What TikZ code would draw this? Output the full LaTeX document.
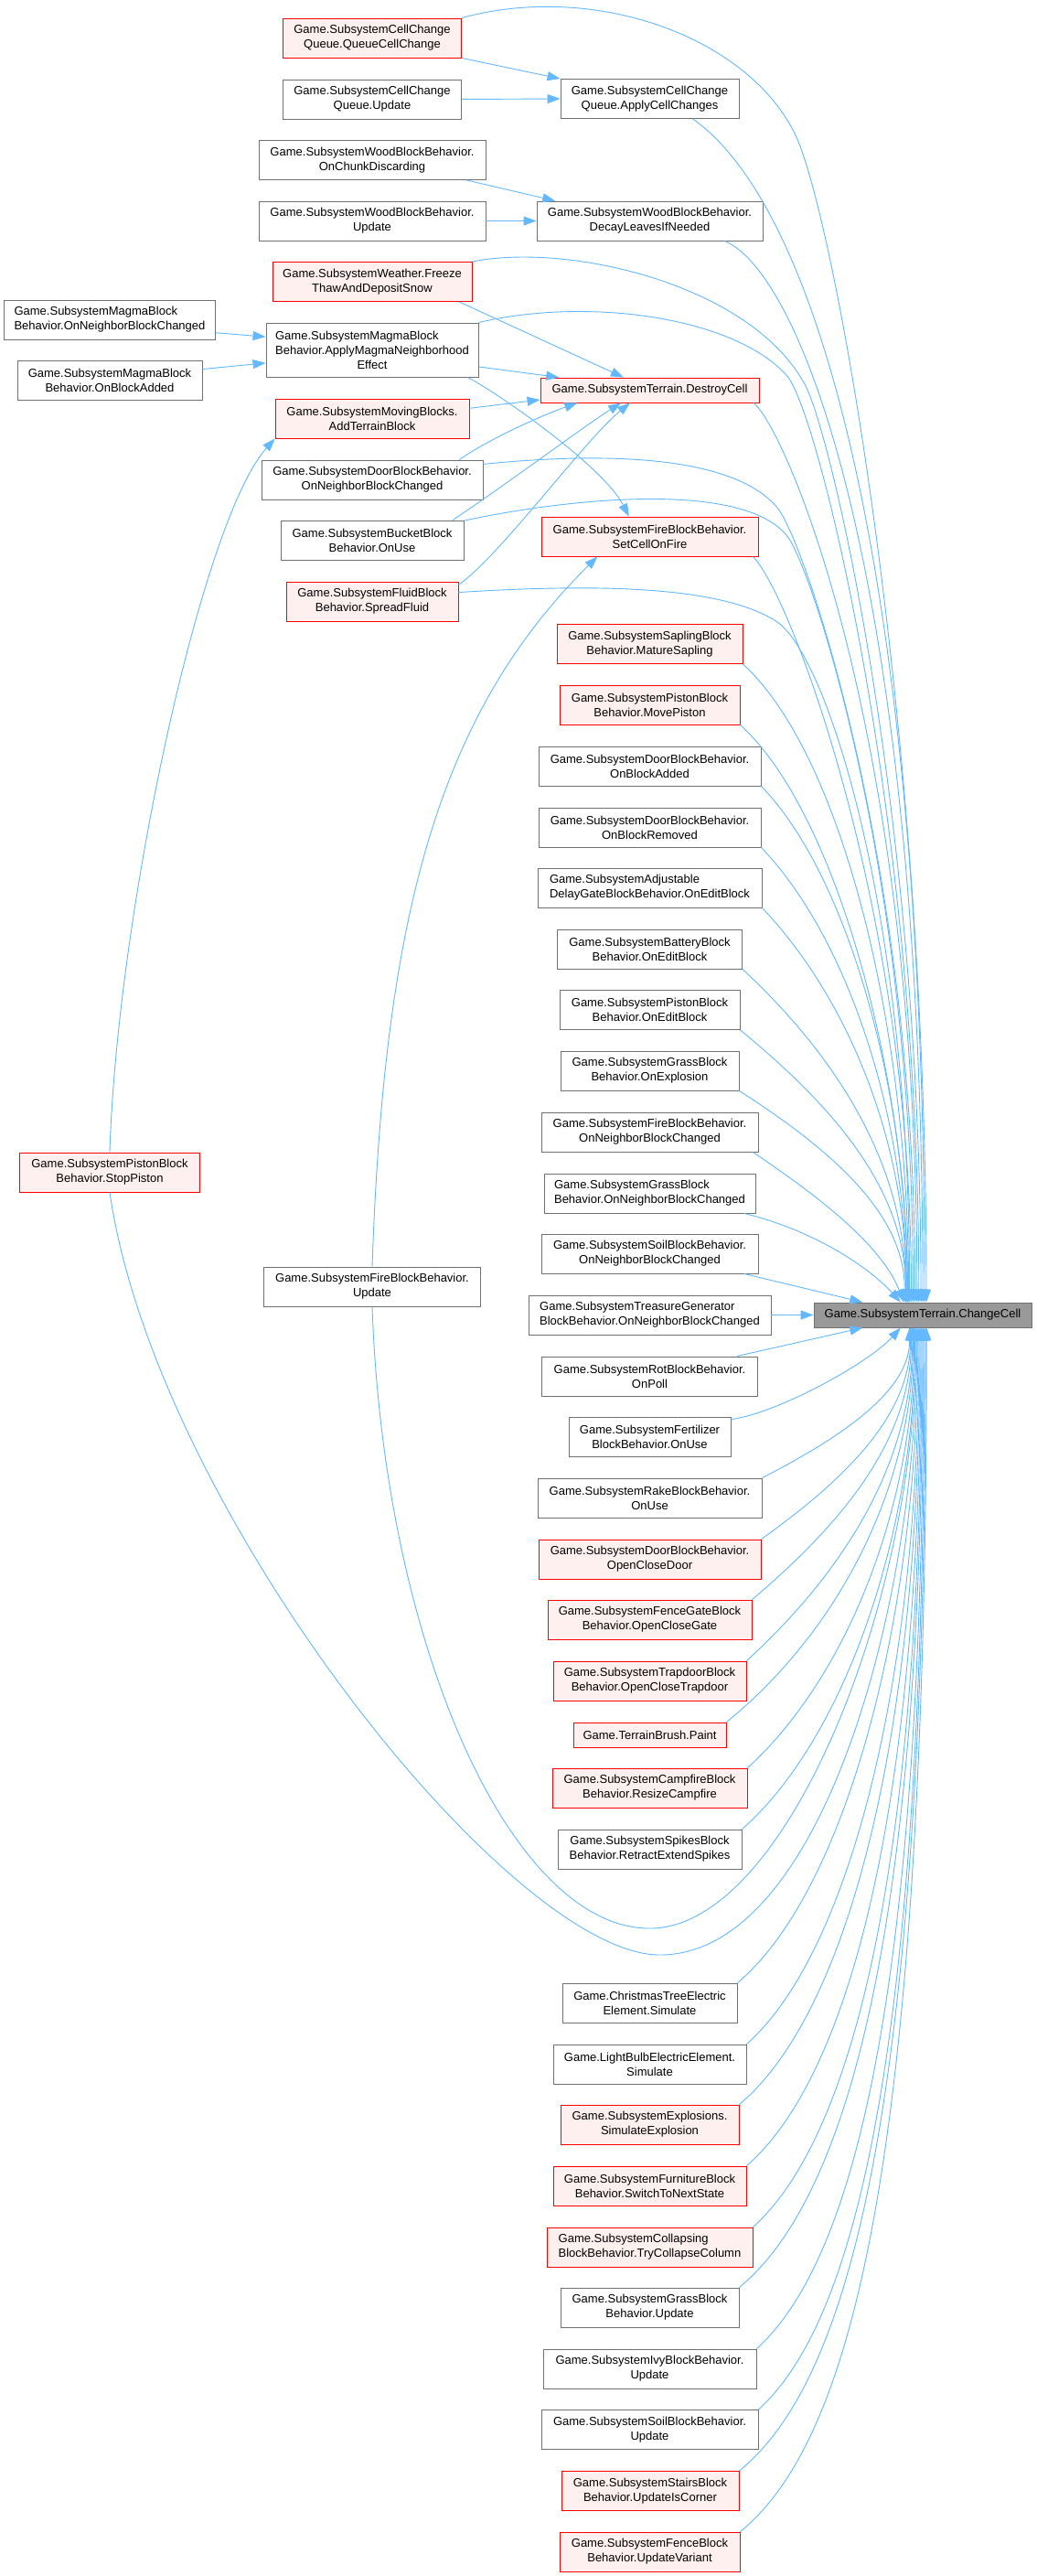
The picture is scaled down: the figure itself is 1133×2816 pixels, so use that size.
\documentclass[tikz,border=0pt]{standalone}
\usepackage{fontspec}
\setmainfont{Liberation Sans}
\usetikzlibrary{arrows.meta}
\definecolor{edgeblue}{HTML}{63B8FF}
\definecolor{boxgray}{HTML}{707070}
\definecolor{boxred}{HTML}{FF0000}
\definecolor{pinkfill}{HTML}{FFF0F0}
\definecolor{curfill}{HTML}{999999}

\begin{document}
\begin{tikzpicture}[x=1pt,y=-1pt,
  fn/.style={draw=boxgray, line width=0.9pt, fill=white, inner sep=0pt, minimum height=43pt, align=center, font=\fontsize{13}{16}\selectfont},
  fnred/.style={fn, draw=boxred, fill=pinkfill},
  fncur/.style={fn, fill=curfill, minimum height=27pt},
  call/.style={draw=edgeblue, line width=0.9pt, -{Triangle[length=14pt,width=10pt]}}]
\path[use as bounding box, fill=white] (0,0) rectangle (1133,2816);

\node[fn, minimum width=231pt, align=left] (magmanbc) at (120,349.5) {Game.SubsystemMagmaBlock\\Behavior.OnNeighborBlockChanged};
\node[fn, minimum width=202pt] (magmaadd) at (120,416) {Game.SubsystemMagmaBlock\\Behavior.OnBlockAdded};
\node[fnred, minimum width=197pt] (stoppis) at (120,1281.5) {Game.SubsystemPistonBlock\\Behavior.StopPiston};

\node[fnred, minimum width=195pt] (queuecc) at (407,41.5) {Game.SubsystemCellChange\\Queue.QueueCellChange};
\node[fn, minimum width=195pt] (queueupd) at (407,108.5) {Game.SubsystemCellChange\\Queue.Update};
\node[fn, minimum width=248pt] (woodchunk) at (407,175) {Game.SubsystemWoodBlockBehavior.\\OnChunkDiscarding};
\node[fn, minimum width=248pt] (woodupd) at (407,241.5) {Game.SubsystemWoodBlockBehavior.\\Update};
\node[fnred, minimum width=218pt] (freeze) at (407,308) {Game.SubsystemWeather.Freeze\\ThawAndDepositSnow};
\node[fn, minimum width=232pt, minimum height=59pt] (magma) at (407,382.5) {\makebox[0pt][l]{Game.SubsystemMagmaBlock}\phantom{Behavior.ApplyMagmaNeighborhood}\\Behavior.ApplyMagmaNeighborhood\\Effect};
\node[fnred, minimum width=212pt] (addtb) at (407,457.5) {Game.SubsystemMovingBlocks.\\AddTerrainBlock};
\node[fn, minimum width=242pt] (doornbc) at (407,524.5) {Game.SubsystemDoorBlockBehavior.\\OnNeighborBlockChanged};
\node[fn, minimum width=200pt] (bucket) at (407,590.5) {Game.SubsystemBucketBlock\\Behavior.OnUse};
\node[fnred, minimum width=188pt] (fluid) at (407,657.5) {Game.SubsystemFluidBlock\\Behavior.SpreadFluid};
\node[fn, minimum width=237pt] (fireupd) at (407,1406.5) {Game.SubsystemFireBlockBehavior.\\Update};

\node[fn, minimum width=195pt] (applycc) at (710.5,108) {Game.SubsystemCellChange\\Queue.ApplyCellChanges};
\node[fn, minimum width=247pt] (decay) at (710.5,241.5) {Game.SubsystemWoodBlockBehavior.\\DecayLeavesIfNeeded};
\node[fnred, minimum width=239pt, minimum height=27pt] (destroy) at (710.5,426.5) {Game.SubsystemTerrain.DestroyCell};
\node[fnred, minimum width=237pt] (setfire) at (710.5,586.5) {Game.SubsystemFireBlockBehavior.\\SetCellOnFire};
\node[fnred, minimum width=203pt] (sapling) at (710.5,704) {Game.SubsystemSaplingBlock\\Behavior.MatureSapling};
\node[fnred, minimum width=197pt] (movepis) at (710.5,770.5) {Game.SubsystemPistonBlock\\Behavior.MovePiston};
\node[fn, minimum width=243pt] (dooradd) at (710.5,837.5) {Game.SubsystemDoorBlockBehavior.\\OnBlockAdded};
\node[fn, minimum width=243pt] (doorrem) at (710.5,904.5) {Game.SubsystemDoorBlockBehavior.\\OnBlockRemoved};
\node[fn, minimum width=245pt, align=left] (delaygate) at (710.5,970.5) {Game.SubsystemAdjustable\\DelayGateBlockBehavior.OnEditBlock};
\node[fn, minimum width=202pt] (battery) at (710.5,1037.5) {Game.SubsystemBatteryBlock\\Behavior.OnEditBlock};
\node[fn, minimum width=197pt] (pisedit) at (710.5,1104) {Game.SubsystemPistonBlock\\Behavior.OnEditBlock};
\node[fn, minimum width=195pt] (grassexp) at (710.5,1170.5) {Game.SubsystemGrassBlock\\Behavior.OnExplosion};
\node[fn, minimum width=237pt] (firenbc) at (710.5,1237.5) {Game.SubsystemFireBlockBehavior.\\OnNeighborBlockChanged};
\node[fn, minimum width=231pt, align=left] (grassnbc) at (710.5,1304.5) {Game.SubsystemGrassBlock\\Behavior.OnNeighborBlockChanged};
\node[fn, minimum width=237pt] (soilnbc) at (710.5,1370.5) {Game.SubsystemSoilBlockBehavior.\\OnNeighborBlockChanged};
\node[fn, minimum width=265pt, align=left] (treasure) at (710.5,1437.5) {Game.SubsystemTreasureGenerator\\BlockBehavior.OnNeighborBlockChanged};
\node[fn, minimum width=236pt] (rotpoll) at (710.5,1504.5) {Game.SubsystemRotBlockBehavior.\\OnPoll};
\node[fn, minimum width=177pt] (fertuse) at (710.5,1570.5) {Game.SubsystemFertilizer\\BlockBehavior.OnUse};
\node[fn, minimum width=245pt] (rakeuse) at (710.5,1637.5) {Game.SubsystemRakeBlockBehavior.\\OnUse};
\node[fnred, minimum width=243pt] (opendoor) at (710.5,1704.5) {Game.SubsystemDoorBlockBehavior.\\OpenCloseDoor};
\node[fnred, minimum width=223pt] (opengate) at (710.5,1770.5) {Game.SubsystemFenceGateBlock\\Behavior.OpenCloseGate};
\node[fnred, minimum width=211pt] (opentrap) at (710.5,1837.5) {Game.SubsystemTrapdoorBlock\\Behavior.OpenCloseTrapdoor};
\node[fnred, minimum width=167pt, minimum height=27pt] (paint) at (710.5,1896.5) {Game.TerrainBrush.Paint};
\node[fnred, minimum width=213pt] (campfire) at (710.5,1954.5) {Game.SubsystemCampfireBlock\\Behavior.ResizeCampfire};
\node[fn, minimum width=201pt] (spikes) at (710.5,2021.5) {Game.SubsystemSpikesBlock\\Behavior.RetractExtendSpikes};
\node[fn, minimum width=191pt] (xmas) at (710.5,2189.5) {Game.ChristmasTreeElectric\\Element.Simulate};
\node[fn, minimum width=211pt] (lightbulb) at (710.5,2256.5) {Game.LightBulbElectricElement.\\Simulate};
\node[fnred, minimum width=195pt] (explosion) at (710.5,2322.5) {Game.SubsystemExplosions.\\SimulateExplosion};
\node[fnred, minimum width=211pt] (furniture) at (710.5,2389.5) {Game.SubsystemFurnitureBlock\\Behavior.SwitchToNextState};
\node[fnred, minimum width=225pt, align=left] (collapse) at (710.5,2456.5) {Game.SubsystemCollapsing\\BlockBehavior.TryCollapseColumn};
\node[fn, minimum width=195pt] (grassupd) at (710.5,2522.5) {Game.SubsystemGrassBlock\\Behavior.Update};
\node[fn, minimum width=233pt] (ivyupd) at (710.5,2589.5) {Game.SubsystemIvyBlockBehavior.\\Update};
\node[fn, minimum width=237pt] (soilupd) at (710.5,2656) {Game.SubsystemSoilBlockBehavior.\\Update};
\node[fnred, minimum width=194pt] (stairs) at (711,2723) {Game.SubsystemStairsBlock\\Behavior.UpdateIsCorner};
\node[fnred, minimum width=197pt] (fencevar) at (710.5,2789.5) {Game.SubsystemFenceBlock\\Behavior.UpdateVariant};

\node[fncur, minimum width=238pt] (change) at (1009,1437.5) {Game.SubsystemTerrain.ChangeCell};

\draw[call] (queuecc.south east) -- (applycc.north west);
\draw[call] (queueupd.east) -- (applycc.west);
\draw[call] (woodchunk.-12) -- (decay.168);
\draw[call] (woodupd.east) -- (decay.west);
\draw[call] (magmanbc.-7) -- (magma.173);
\draw[call] (magmaadd.7) -- (magma.187);
\draw[call] (freeze.-13) -- (destroy.154);
\draw[call] (magma.-9) -- (destroy.172);
\draw[call] (addtb.6) -- (destroy.185);
\draw[call] (doornbc.13) .. controls (535,480) and (590,455) .. (destroy.190);
\draw[call] (bucket.14) .. controls (560,525) and (640,465) .. (destroy.204);
\draw[call] (fluid.11) .. controls (545,610) and (640,480) .. (destroy.213);
\draw[call] (magma.-16) .. controls (545,430) and (660,510) .. (setfire.136);
\draw[call] (fireupd.north) .. controls (420,1000) and (480,780) .. (setfire.201);
\draw[call] (stoppis.north) .. controls (128,1000) and (220,570) .. (addtb.south west);

\draw[call] (queuecc.north east) .. controls (650,-20) and (820,40) .. (871,150) .. controls (915,250) and (1013,800) .. (change.74);
\draw[call] (applycc.-25) .. controls (900,230) and (1011,650) .. (change.82);
\draw[call] (decay.-15) .. controls (880,300) and (1009,650) .. (change.90);
\draw[call] (freeze.north east) .. controls (620,265) and (820,310) .. (880,420) .. controls (910,475) and (1007,900) .. (change.98);
\draw[call] (magma.north east) .. controls (640,325) and (800,345) .. (860,410) .. controls (895,448) and (1005,900) .. (change.107);
\draw[call] (destroy.-7) .. controls (860,470) and (1003,800) .. (change.114);
\draw[call] (doornbc.8) .. controls (650,495) and (800,495) .. (850,555) .. controls (880,590) and (1001,950) .. (change.121);
\draw[call] (bucket.12) .. controls (620,545) and (810,525) .. (860,585) .. controls (885,612) and (999,950) .. (change.127);
\draw[call] (setfire.-11) .. controls (865,650) and (997,1000) .. (change.132);
\draw[call] (fluid.6) .. controls (650,638) and (790,640) .. (850,680) .. controls (905,718) and (995,1000) .. (change.136);
\draw[call] (sapling.south east) .. controls (921,825) and (994,1125) .. (change.138);
\draw[call] (movepis.south east) .. controls (919,892) and (993,1192) .. (change.140);
\draw[call] (dooradd.south east) .. controls (929,959) and (993,1198) .. (change.140);
\draw[call] (doorrem.south east) .. controls (928,1026) and (992,1225) .. (change.142);
\draw[call] (delaygate.south east) .. controls (928,1092) and (992,1251) .. (change.142);
\draw[call] (battery.south east) .. controls (919,1159) and (991,1278) .. (change.143);
\draw[call] (pisedit.south east) .. controls (918,1215) and (991,1305) .. (change.143);
\draw[call] (grassexp.south east) .. controls (917,1262) and (990,1331) .. (change.145);
\draw[call] (firenbc.-11) .. controls (860,1285) and (960,1350) .. (change.146);
\draw[call] (grassnbc.-12) .. controls (890,1345) and (950,1385) .. (change.150);
\draw[call] (soilnbc.-12) -- (change.168);
\draw[call] (treasure.east) -- (change.west);
\draw[call] (rotpoll.13) -- (change.192);
\draw[call] (fertuse.12) .. controls (850,1545) and (950,1490) .. (change.210);
\draw[call] (rakeuse.north east) .. controls (930,1566) and (995,1517) .. (change.224);
\draw[call] (opendoor.north east) .. controls (930,1613) and (996,1544) .. (change.226);
\draw[call] (opengate.north east) .. controls (927,1660) and (997,1570) .. (change.228);
\draw[call] (opentrap.north east) .. controls (925,1716) and (998,1597) .. (change.231);
\draw[call] (paint.north east) .. controls (917,1783) and (999,1624) .. (change.233);
\draw[call] (campfire.north east) .. controls (927,1833) and (1000,1644) .. (change.236);
\draw[call] (spikes.north east) .. controls (925,1900) and (1001,1671) .. (change.239);
\draw[call] (fireupd.south) .. controls (420,1800) and (560,2110) .. (712,2108) .. controls (860,2106) and (1002,1750) .. (change.243);
\draw[call] (stoppis.south) .. controls (170,1650) and (560,2140) .. (723,2137) .. controls (900,2135) and (1003,1750) .. (change.246);
\draw[call] (xmas.north east) .. controls (925,2068) and (1004,1768) .. (change.250);
\draw[call] (lightbulb.north east) .. controls (929,2135) and (1005,1835) .. (change.254);
\draw[call] (explosion.north east) .. controls (927,2201) and (1006,1901) .. (change.258);
\draw[call] (furniture.north east) .. controls (931,2268) and (1007,1968) .. (change.262);
\draw[call] (collapse.north east) .. controls (934,2335) and (1008,2035) .. (change.266);
\draw[call] (grassupd.north east) .. controls (929,2401) and (1009,2101) .. (change.270);
\draw[call] (ivyupd.north east) .. controls (937,2468) and (1010,2168) .. (change.274);
\draw[call] (soilupd.north east) .. controls (938,2535) and (1011,2235) .. (change.278);
\draw[call] (stairs.north east) .. controls (930,2602) and (1012,2302) .. (change.283);
\draw[call] (fencevar.north east) .. controls (931,2668) and (1013,2368) .. (change.287);
\end{tikzpicture}
\end{document}
